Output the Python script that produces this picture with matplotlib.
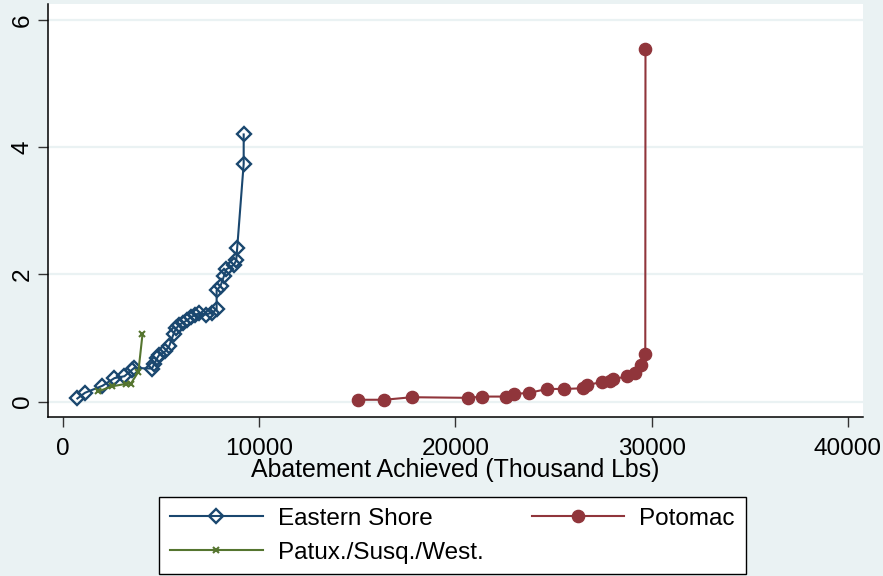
import matplotlib.pyplot as plt

# Eastern Shore
es_x = [720, 1110, 2000, 2610, 3120, 3500, 3620, 4520, 4640, 4780, 4900,
        5200, 5410, 5630, 5750, 5920, 6110, 6310, 6520, 6710, 6910, 7290,
        7590, 7820, 7820, 8020, 8190, 8310, 8700, 8820, 8870, 9200, 9200]
es_y = [0.05, 0.14, 0.25, 0.37, 0.40, 0.50, 0.53, 0.52, 0.59, 0.68, 0.74,
        0.79, 0.88, 1.07, 1.15, 1.21, 1.24, 1.28, 1.33, 1.36, 1.39, 1.37,
        1.40, 1.45, 1.75, 1.82, 1.97, 2.08, 2.15, 2.22, 2.42, 3.74, 4.20]

# Patux./Susq./West.
pw_x = [1780, 2470, 3200, 3440, 3830, 4040]
pw_y = [0.16, 0.24, 0.28, 0.28, 0.47, 1.06]

# Potomac
po_x = [15050, 16380, 17780, 20650, 21360, 22600, 23000, 23770, 24690,
        25540, 26480, 26700, 27470, 27890, 28010, 28750, 29170, 29460,
        29680, 29690]
po_y = [0.03, 0.03, 0.07, 0.06, 0.08, 0.08, 0.12, 0.14, 0.20, 0.20, 0.21,
        0.26, 0.31, 0.33, 0.35, 0.40, 0.45, 0.58, 0.75, 5.55]

x_ticks = [0, 10000, 20000, 30000, 40000]
y_ticks = [0, 2, 4, 6]

navy = '#1a476f'
maroon = '#90353b'
green = '#55752f'
bg = '#eaf2f3'

plt.rcParams['font.family'] = ['Liberation Sans', 'DejaVu Sans']

fig = plt.figure(figsize=(8.83, 5.76), dpi=100, facecolor=bg)
ax = fig.add_axes([0.054, 0.2766, 0.9233, 0.7164])

ax.plot(es_x, es_y, color=navy, lw=1.5, marker='D', ms=7, mfc='none',
        mec=navy, mew=1.7, label='Eastern Shore', zorder=3)
ax.plot(po_x, po_y, color=maroon, lw=1.5, marker='o', ms=8.8,
        mec=maroon, label='Potomac', zorder=3)
ax.plot(pw_x, pw_y, color=green, lw=1.5, marker='x', ms=4.5, mew=1.5,
        label='Patux./Susq./West.', zorder=4)

ax.set_xlim(-795, 40780)
ax.set_ylim(-0.236, 6.25)
ax.set_xticks(x_ticks)
ax.set_yticks(y_ticks)
ax.set_yticklabels([str(v) for v in y_ticks], rotation=90, va='center')
ax.tick_params(labelsize=17.5, length=7, width=1, color='#333333')
ax.tick_params(axis='x', pad=8)
ax.tick_params(axis='y', pad=3)
ax.grid(axis='y', color=bg, lw=1.6)
ax.set_axisbelow(True)
for s in ['top', 'right']:
    ax.spines[s].set_visible(False)
for s in ['left', 'bottom']:
    ax.spines[s].set_linewidth(1.1)
ax.set_xlabel('Abatement Achieved (Thousand Lbs)', fontsize=17.9, labelpad=-1)

h, l = ax.get_legend_handles_labels()
order = [0, 2, 1]
leg = fig.legend([h[i] for i in order], [l[i] for i in order], ncol=2,
                 loc='upper center', bbox_to_anchor=(0.5125, 0.1375),
                 fontsize=17.5, frameon=True, fancybox=False,
                 edgecolor='black', framealpha=1, handlelength=3.8,
                 handletextpad=0.62, columnspacing=2.0, labelspacing=0.5,
                 borderpad=0.44, borderaxespad=0)
leg.get_frame().set_linewidth(1.0)

fig.savefig('out.png', dpi=100, facecolor=bg)
